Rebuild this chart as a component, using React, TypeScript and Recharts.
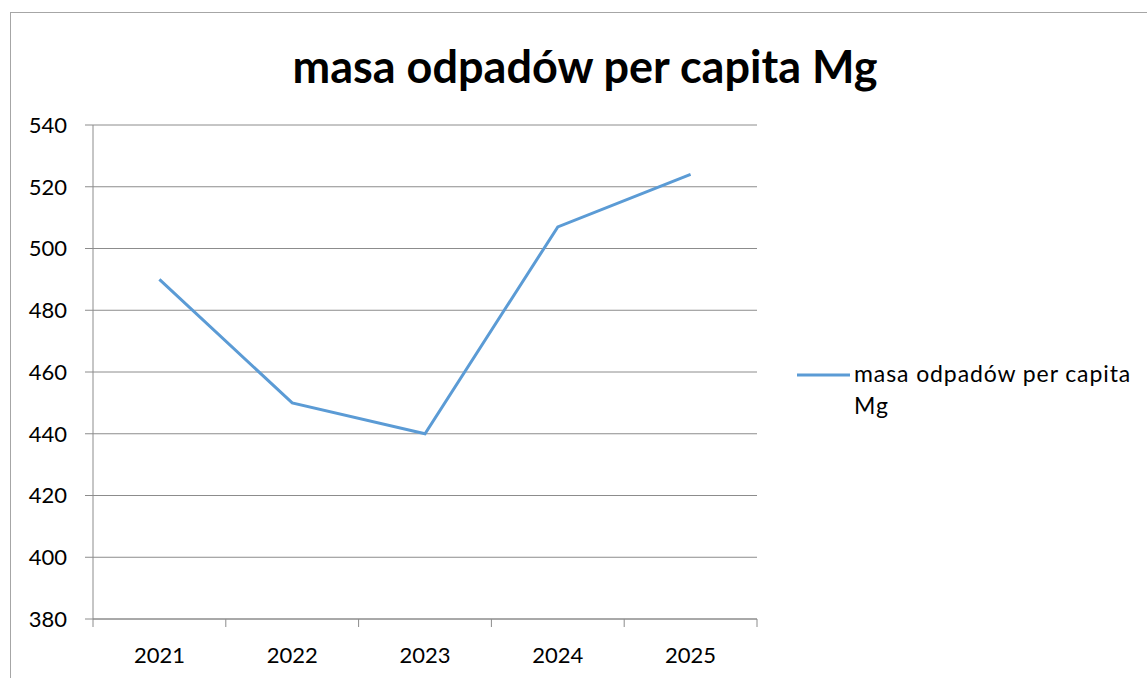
import React from 'react';
import { LineChart, Line, XAxis, YAxis, CartesianGrid, Legend } from 'recharts';

const years = ['2021', '2022', '2023', '2024', '2025'];
const values = [490, 450, 440, 507, 524];
const yTicks = [380, 400, 420, 440, 460, 480, 500, 520, 540];
const seriesName = 'masa odpadów per capita Mg';
const title = 'masa odpadów per capita Mg';

const data = years.map((y, i) => ({ year: y, value: values[i] }));

const FONT = 'Lato, Carlito, Calibri, sans-serif';
const GRID = '#8c8c8c';
const LINE = '#5B9BD5';
const TICK_SIZE = 8;
const TICK_MARGIN = 20;

const renderLegend = () => (
  <div style={{ display: 'flex', alignItems: 'flex-start', fontFamily: FONT, fontSize: 23, letterSpacing: '0.9px', color: '#000' }}>
    <svg width={57} height={32} style={{ flex: 'none' }}>
      <line x1={0} y1={17} x2={53} y2={17} stroke={LINE} strokeWidth={3} />
    </svg>
    <div style={{ width: 288, lineHeight: '32px', marginTop: -1 }}>{seriesName}</div>
  </div>
);

const CategoryTick = (props: any) => {
  const { x, y, payload, index, visibleTicksCount } = props;
  const half = payload && payload.offset ? payload.offset : 0;
  const axisY = y - TICK_SIZE - TICK_MARGIN;
  const isLast = index === (visibleTicksCount ?? years.length) - 1;
  return (
    <g>
      <line x1={x - half} y1={axisY} x2={x - half} y2={axisY + TICK_SIZE} stroke={GRID} />
      {isLast && <line x1={x + half} y1={axisY} x2={x + half} y2={axisY + TICK_SIZE} stroke={GRID} />}
      <text x={x} y={y} dy="0.71em" textAnchor="middle" fill="#000" fontSize={22} fontFamily={FONT}>
        {payload.value}
      </text>
    </g>
  );
};

export default function App() {
  return (
    <div style={{ position: 'absolute', left: 0, top: 0, width: 1147, height: 678, background: '#fff', overflow: 'hidden' }}>
      <div style={{ position: 'absolute', left: 10, top: 12, width: 1200, height: 700, borderLeft: '1px solid #a6a6a6', borderTop: '1px solid #a6a6a6' }} />
      <div style={{ position: 'absolute', left: 0, width: 1170, top: 36, textAlign: 'center', fontFamily: FONT, fontWeight: 700, fontSize: 45, lineHeight: '60px', color: '#000' }}>
        {title}
      </div>
      <div style={{ position: 'absolute', left: 0, top: 0 }}>
        <LineChart width={1147} height={678} data={data} margin={{ top: 125, right: 390, bottom: 19, left: 13 }}>
          <CartesianGrid horizontal vertical={false} stroke={GRID} />
          <XAxis
            dataKey="year"
            scale="band"
            height={40}
            tickLine={false}
            axisLine={{ stroke: GRID }}
            tickSize={TICK_SIZE}
            tickMargin={TICK_MARGIN}
            tick={CategoryTick}
            interval={0}
          />
          <YAxis
            domain={[380, 540]}
            ticks={yTicks}
            width={80}
            axisLine={{ stroke: GRID }}
            tickLine={{ stroke: GRID }}
            tickSize={8}
            tickMargin={18}
            tick={{ fill: '#000', fontSize: 22, fontFamily: FONT }}
          />
          <Legend
            layout="horizontal"
            align="center"
            verticalAlign="middle"
            content={renderLegend}
            wrapperStyle={{ left: 797, top: 358, width: 350, height: 72 }}
          />
          <Line
            type="linear"
            dataKey="value"
            name={seriesName}
            stroke={LINE}
            strokeWidth={3}
            dot={false}
            isAnimationActive={false}
          />
        </LineChart>
      </div>
    </div>
  );
}
